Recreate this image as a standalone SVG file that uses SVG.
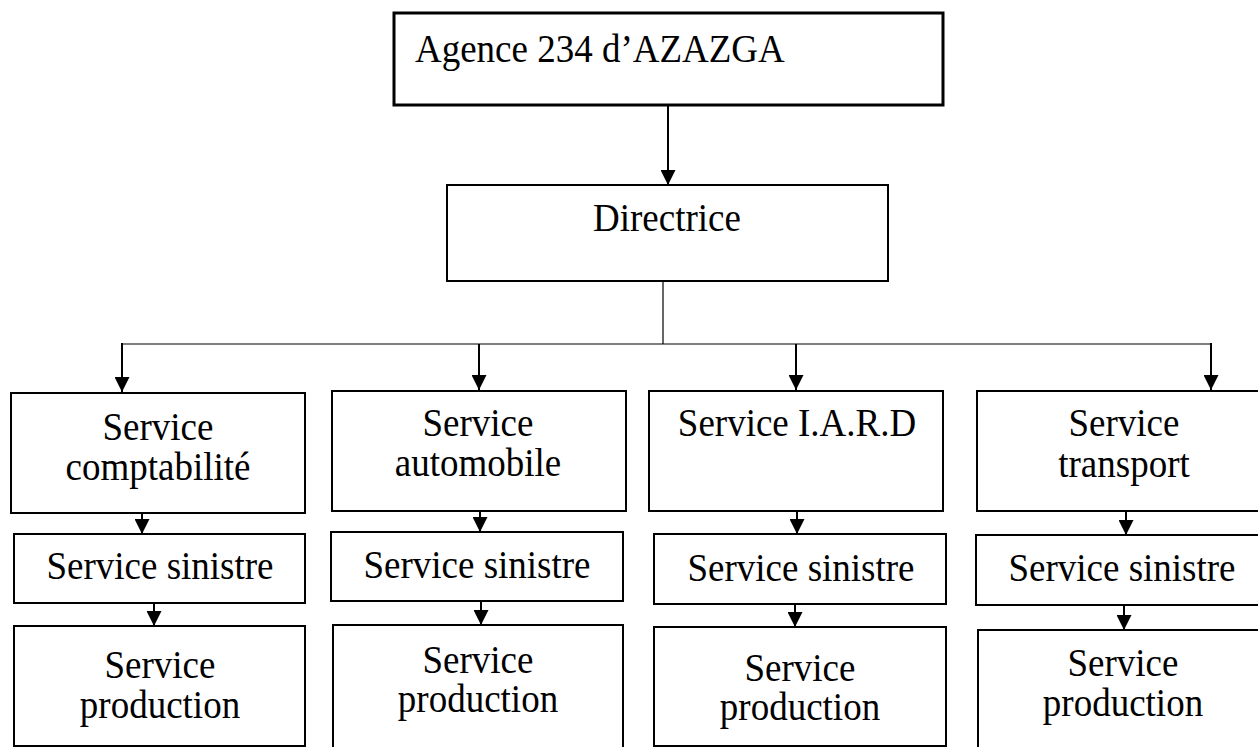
<svg xmlns="http://www.w3.org/2000/svg" width="1258" height="747" viewBox="0 0 1258 747">
<style>
.box{fill:#fff;stroke:#000;stroke-width:2}
.t{font-family:"Liberation Serif","Times New Roman",serif;font-size:37px;fill:#000}
.c{text-anchor:middle}
.arr{stroke:#000;stroke-width:2;fill:none;marker-end:url(#ah)}
.thin{stroke:#000;stroke-width:1.2;fill:none}
</style>
<defs>
<marker id="ah" viewBox="0 0 16 16" refX="16" refY="8" markerWidth="16" markerHeight="15" markerUnits="userSpaceOnUse" orient="auto">
<path d="M0,0 L16,8 L0,16 z" fill="#000"/>
</marker>
</defs>
<rect width="1258" height="747" fill="#fff"/>
<g id="agence">
<rect class="box" x="394" y="13" width="549" height="92" style="stroke-width:3"/>
<text class="t" x="415" y="62" transform="matrix(1 0 0 1.08 0 -4.96)">Agence 234 d’AZAZGA</text>
</g>
<g id="directrice">
<rect class="box" x="447" y="185" width="441" height="96"/>
<text class="t" x="593" y="231" transform="matrix(1 0 0 1.08 0 -18.48)">Directrice</text>
</g>
<g id="comptabilite">
<rect class="box" x="11" y="393" width="294" height="120"/>
<text class="t c" x="158" y="440" transform="matrix(1 0 0 1.08 0 -35.2)">Service</text>
<text class="t c" x="158" y="480" transform="matrix(1 0 0 1.08 0 -38.4)">comptabilité</text>
</g>
<g id="sinistre1">
<rect class="box" x="14" y="534" width="291" height="69"/>
<text class="t c" x="160" y="579" transform="matrix(1 0 0 1.08 0 -46.32)">Service sinistre</text>
</g>
<g id="production1">
<rect class="box" x="14" y="626" width="291" height="120"/>
<text class="t c" x="160" y="678" transform="matrix(1 0 0 1.08 0 -54.24)">Service</text>
<text class="t c" x="160" y="718" transform="matrix(1 0 0 1.08 0 -57.44)">production</text>
</g>
<g id="automobile">
<rect class="box" x="332" y="391" width="294" height="120"/>
<text class="t c" x="478" y="436" transform="matrix(1 0 0 1.08 0 -34.88)">Service</text>
<text class="t c" x="478" y="476" transform="matrix(1 0 0 1.08 0 -38.08)">automobile</text>
</g>
<g id="sinistre2">
<rect class="box" x="331" y="532" width="292" height="69"/>
<text class="t c" x="477" y="578" transform="matrix(1 0 0 1.08 0 -46.24)">Service sinistre</text>
</g>
<g id="production2">
<rect class="box" x="333" y="625" width="290" height="126"/>
<text class="t c" x="478" y="673" transform="matrix(1 0 0 1.08 0 -53.84)">Service</text>
<text class="t c" x="478" y="712" transform="matrix(1 0 0 1.08 0 -56.96)">production</text>
</g>
<g id="iard">
<rect class="box" x="649" y="391" width="294" height="120"/>
<text class="t c" x="797" y="436" transform="matrix(1 0 0 1.08 0 -34.88)">Service I.A.R.D</text>
</g>
<g id="sinistre3">
<rect class="box" x="654" y="534" width="292" height="70"/>
<text class="t c" x="801" y="581" transform="matrix(1 0 0 1.08 0 -46.48)">Service sinistre</text>
</g>
<g id="production3">
<rect class="box" x="654" y="627" width="292" height="119"/>
<text class="t c" x="800" y="681" transform="matrix(1 0 0 1.08 0 -54.48)">Service</text>
<text class="t c" x="800" y="720" transform="matrix(1 0 0 1.08 0 -57.6)">production</text>
</g>
<g id="transport">
<rect class="box" x="977" y="391" width="300" height="120"/>
<text class="t c" x="1124" y="436" transform="matrix(1 0 0 1.08 0 -34.88)">Service</text>
<text class="t c" x="1124" y="477" transform="matrix(1 0 0 1.08 0 -38.16)">transport</text>
</g>
<g id="sinistre4">
<rect class="box" x="976" y="535" width="300" height="70"/>
<text class="t c" x="1122" y="581" transform="matrix(1 0 0 1.08 0 -46.48)">Service sinistre</text>
</g>
<g id="production4">
<rect class="box" x="978" y="630" width="300" height="130"/>
<text class="t c" x="1123" y="676" transform="matrix(1 0 0 1.08 0 -54.08)">Service</text>
<text class="t c" x="1123" y="716" transform="matrix(1 0 0 1.08 0 -57.28)">production</text>
</g>
<g id="connectors">
<line class="arr" x1="668" y1="105" x2="668" y2="185"/>
<line class="thin" x1="663" y1="281" x2="663" y2="344"/>
<line class="thin" x1="122" y1="344" x2="1211" y2="344"/>
<line class="arr" x1="122" y1="343" x2="122" y2="392"/>
<line class="arr" x1="479" y1="344" x2="479" y2="390"/>
<line class="arr" x1="796" y1="344" x2="796" y2="390"/>
<line class="arr" x1="1211" y1="343" x2="1211" y2="390"/>
<line class="arr" x1="142" y1="513" x2="142" y2="534"/>
<line class="arr" x1="154" y1="603" x2="154" y2="626"/>
<line class="arr" x1="480" y1="511" x2="480" y2="532"/>
<line class="arr" x1="481" y1="601" x2="481" y2="625"/>
<line class="arr" x1="797" y1="511" x2="797" y2="534"/>
<line class="arr" x1="795" y1="604" x2="795" y2="627"/>
<line class="arr" x1="1126" y1="511" x2="1126" y2="535"/>
<line class="arr" x1="1124" y1="605" x2="1124" y2="630"/>
</g>
</svg>
